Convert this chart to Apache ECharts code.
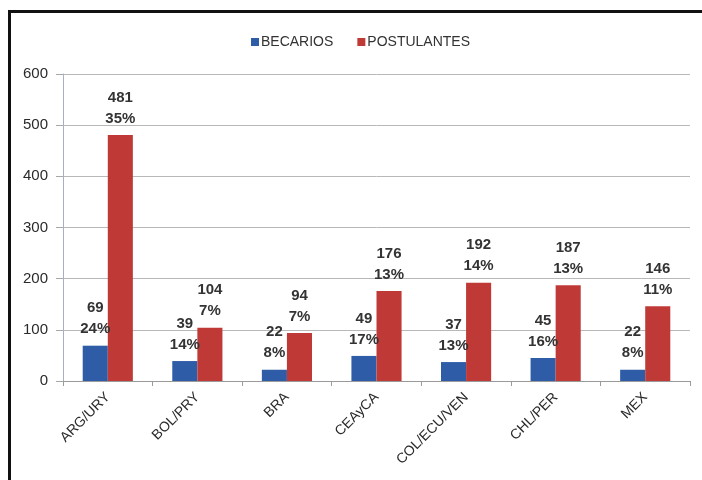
<!DOCTYPE html>
<html>
<head>
<meta charset="utf-8">
<script src="https://cdn.jsdelivr.net/npm/echarts@6/dist/echarts.min.js"></script>
<style>html,body{margin:0;padding:0;background:#fff;}#c{width:702px;height:480px;}</style>
</head>
<body>
<div id="c"></div>
<script>
var categories = ['ARG/URY','BOL/PRY','BRA','CEAyCA','COL/ECU/VEN','CHL/PER','MEX'];
var becarios = [69,39,22,49,37,45,22];
var becariosPct = ['24%','14%','8%','17%','13%','16%','8%'];
var postulantes = [481,104,94,176,192,187,146];
var postulantesPct = ['35%','7%','7%','13%','14%','13%','11%'];
var yTicks = [0,100,200,300,400,500,600];

var chart = echarts.init(document.getElementById('c'), null, {renderer:'canvas'});
function lbl(pcts){
  return {
    show:true, position:'top', distance:6,
    fontFamily:'Liberation Sans, Arial, sans-serif', fontSize:15, fontWeight:'bold',
    color:'#333', lineHeight:21,
    formatter:function(p){return p.value+'\n'+pcts[p.dataIndex];}
  };
}
chart.setOption({
  animation:false,
  backgroundColor:'#fff',
  textStyle:{fontFamily:'Liberation Sans, Arial, sans-serif'},
  graphic:[{type:'rect',shape:{x:9.5,y:11.5,width:720,height:500},style:{fill:'none',stroke:'#111',lineWidth:3},z:100}],
  legend:{
    left:246, top:30, itemWidth:8, itemHeight:8, itemGap:24,
    icon:'rect',
    textStyle:{fontSize:14,color:'#333',fontFamily:'Liberation Sans, Arial, sans-serif', padding:[0,0,0,-3]},
    data:['BECARIOS','POSTULANTES']
  },
  grid:{left:63,right:12,top:74,bottom:99,containLabel:false},
  xAxis:{
    type:'category', data:categories,
    axisLine:{lineStyle:{color:'#9a9a9a'}},
    axisTick:{show:true,length:5,lineStyle:{color:'#9a9a9a'}},
    axisLabel:{rotate:45,fontSize:14,color:'#2a2a2a',margin:14,interval:0}
  },
  yAxis:{
    type:'value', min:0, max:600, interval:100,
    axisLine:{show:true,lineStyle:{color:'#a8b0c4'}},
    axisTick:{show:true,length:7,lineStyle:{color:'#a8a8a8'}},
    splitLine:{lineStyle:{color:'#b8b8b8'}},
    axisLabel:{fontSize:15,color:'#2a2a2a',margin:15,
      formatter:function(v){return yTicks.indexOf(v)>=0?String(v):'';}}
  },
  series:[
    {name:'BECARIOS',type:'bar',data:becarios,barGap:'0%',barCategoryGap:'44%',
     itemStyle:{color:'#2f5ca6'},label:lbl(becariosPct)},
    {name:'POSTULANTES',type:'bar',data:postulantes,barGap:'0%',barCategoryGap:'44%',
     itemStyle:{color:'#bf3a37'},label:lbl(postulantesPct)}
  ]
});
</script>
</body>
</html>
